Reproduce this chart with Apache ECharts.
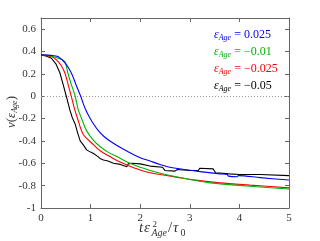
<!DOCTYPE html>
<html><head><meta charset="utf-8">
<script src="https://cdn.jsdelivr.net/npm/echarts@6/dist/echarts.min.js"></script>
<style>html,body{margin:0;padding:0;background:#fff}#c{width:320px;height:241px}</style>
</head><body><div id="c"></div>
<script>
const tBlue = [0, 0.2, 0.34, 0.5, 0.61, 0.7, 0.8, 0.89, 0.98, 1.07, 1.16, 1.27, 1.39, 1.55, 1.73, 2.0, 2.2, 2.4, 2.6, 3.14, 3.61, 3.75, 3.78, 3.95, 3.98, 4.42, 5.0];
const vBlue = [0.37, 0.366, 0.355, 0.29, 0.21, 0.11, 0.0, -0.11, -0.19, -0.255, -0.31, -0.36, -0.40, -0.445, -0.49, -0.55, -0.58, -0.61, -0.635, -0.67, -0.695, -0.70, -0.715, -0.72, -0.71, -0.728, -0.75];
const tGreen = [0, 0.2, 0.35, 0.48, 0.54, 0.6, 0.69, 0.75, 0.81, 0.92, 1.05, 1.19, 1.35, 1.53, 1.79, 2.0, 2.2, 2.6, 3.0, 3.41, 4.21, 5.0];
const vGreen = [0.37, 0.36, 0.34, 0.31, 0.21, 0.12, 0.0, -0.12, -0.19, -0.31, -0.39, -0.45, -0.50, -0.54, -0.60, -0.635, -0.665, -0.71, -0.745, -0.775, -0.805, -0.83];
const tRed = [0, 0.2, 0.3, 0.4, 0.48, 0.55, 0.61, 0.68, 0.73, 0.85, 1.05, 1.2, 1.39, 1.55, 1.73, 2.0, 2.2, 2.8, 3.2, 3.61, 4.21, 5.0];
const vRed = [0.37, 0.355, 0.33, 0.28, 0.21, 0.1, 0.0, -0.12, -0.19, -0.34, -0.43, -0.49, -0.54, -0.58, -0.615, -0.66, -0.685, -0.73, -0.755, -0.775, -0.795, -0.82];
const tBlack = [0, 0.1, 0.21, 0.3, 0.38, 0.45, 0.51, 0.58, 0.63, 0.69, 0.74, 0.79, 0.86, 0.92, 1.0, 1.05, 1.15, 1.2, 1.26, 1.35, 1.46, 1.6, 1.73, 1.76, 1.83, 2.0, 2.2, 2.45, 2.5, 2.7, 2.75, 3.0, 3.17, 3.2, 3.47, 3.52, 3.8, 4.0, 4.42, 5.0];
const vBlack = [0.37, 0.36, 0.34, 0.29, 0.21, 0.1, 0.0, -0.12, -0.19, -0.25, -0.33, -0.40, -0.44, -0.48, -0.50, -0.51, -0.54, -0.56, -0.57, -0.58, -0.60, -0.61, -0.63, -0.605, -0.60, -0.605, -0.625, -0.635, -0.665, -0.67, -0.655, -0.665, -0.665, -0.645, -0.65, -0.685, -0.695, -0.70, -0.70, -0.71];
const legendLabels = ['0.025', '\u22120.01', '\u22120.025', '\u22120.05'];
const colors = ['#0000ff', '#00b400', '#ff0000', '#000000'];

const pair = (t, v) => t.map((x, i) => [x, v[i]]);
const serif = 'Liberation Serif';
const chart = echarts.init(document.getElementById('c'), null, {renderer: 'canvas'});
const axisCommon = {
  axisLine: {show: true, onZero: false, lineStyle: {color: '#666', width: 1}},
  axisTick: {show: true, inside: true, length: 4, lineStyle: {color: '#666'}},
  splitLine: {show: false}
};
const legendGraphics = legendLabels.map((lab, i) => ({
  type: 'text', left: 214, top: 29 + i * 17,
  style: {
    rich: {
      e: {fontFamily: serif, fontStyle: 'italic', fontSize: 12, fill: colors[i]},
      s: {fontFamily: serif, fontStyle: 'italic', fontSize: 8, fill: colors[i], padding: [6, 0, 0, 0]},
      n: {fontFamily: serif, fontSize: 12, fill: colors[i]}
    },
    text: '{e|\u03b5}{s|Age}{n| = ' + lab + '}'
  }
}));
const txt = (s, x, y, size, italic) => ({type: 'text', x: x, y: y,
  style: {text: s, fontFamily: serif, fontSize: size, fontStyle: italic ? 'italic' : 'normal',
    fill: '#333', verticalAlign: 'middle', align: 'left'}});
const xName = [
  txt('t', 139, 228.5, 15, true),
  txt('\u03b5', 144, 228.5, 15, true),
  txt('2', 152.5, 224.5, 9, false),
  txt('Age', 151.5, 233.5, 10, true),
  txt('/', 168, 228.5, 15, false),
  txt('\u03c4', 173, 228.5, 15, true),
  txt('0', 180.5, 233.5, 10, false)
];
chart.setOption({
  animation: false,
  grid: {left: 41, right: 31, top: 18, bottom: 33},
  xAxis: [
    Object.assign({type: 'value', min: 0, max: 5, interval: 1, position: 'bottom',
      axisLabel: {fontFamily: serif, fontSize: 11, color: '#333', margin: 5}}, axisCommon),
    Object.assign({type: 'value', min: 0, max: 5, interval: 1, position: 'top',
      axisLabel: {show: false}}, axisCommon)
  ],
  yAxis: [
    Object.assign({type: 'value', min: -1, max: 0.7, interval: 0.2, position: 'left',
      axisLabel: {fontFamily: serif, fontSize: 11, color: '#333', margin: 5, showMaxLabel: false,
        formatter: v => String(Math.round(v * 10) / 10)}}, axisCommon),
    Object.assign({type: 'value', min: -1, max: 0.7, interval: 0.2, position: 'right',
      axisLabel: {show: false}}, axisCommon)
  ],
  series: [
    {type: 'line', data: pair(tBlue, vBlue), color: colors[0]},
    {type: 'line', data: pair(tGreen, vGreen), color: colors[1]},
    {type: 'line', data: pair(tRed, vRed), color: colors[2]},
    {type: 'line', data: pair(tBlack, vBlack), color: colors[3],
      markLine: {silent: true, symbol: 'none', label: {show: false},
        lineStyle: {color: '#999', type: [1, 2], width: 1}, data: [{yAxis: 0}]}}
  ].map((s, i) => Object.assign({showSymbol: false, smooth: i < 3 ? 0.3 : false, lineStyle: {width: 1.1}, z: 10 - i}, s)),
  graphic: legendGraphics.concat(xName, [
    {type: 'text', x: 4, y: 128, rotation: Math.PI / 2,
      style: {
        rich: {
          i: {fontFamily: serif, fontStyle: 'italic', fontSize: 13, fill: '#333'},
          r: {fontFamily: serif, fontSize: 13, fill: '#333'},
          s: {fontFamily: serif, fontStyle: 'italic', fontSize: 8, fill: '#333', padding: [7, 0, 0, 0]}
        },
        text: '{i|\u03bd}{r|(}{i|\u03b5}{s|Age}{r|)}'
      }}
  ])
});
</script></body></html>
